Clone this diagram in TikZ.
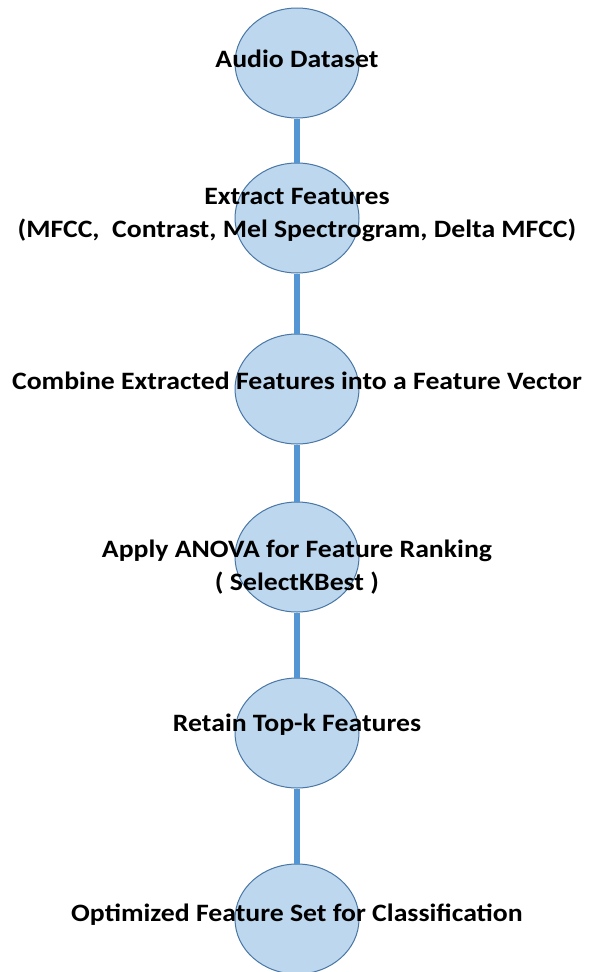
\documentclass[tikz,border=0pt]{standalone}
\usepackage{fontspec}
\setmainfont{Carlito}[FakeStretch=1.11]
\usetikzlibrary{shapes.geometric}
\definecolor{discfill}{RGB}{189,215,238}
\definecolor{discedge}{RGB}{72,118,165}
\definecolor{linkblue}{RGB}{84,150,212}
\tikzset{
  disc/.style={ellipse, draw=discedge, line width=1pt, fill=discfill,
    minimum width=124pt, minimum height=110pt, inner sep=0pt},
  lbl/.style={font=\bfseries\fontsize{25}{33}\selectfont, align=center,
    text=black, inner sep=0pt, anchor=base},
  link/.style={draw=linkblue, line width=6pt}
}
\begin{document}
\begin{tikzpicture}[x=1pt,y=-1pt]
\useasboundingbox (0,0) rectangle (596,972);
\clip (0,0) rectangle (596,972);
\fill[white] (0,0) rectangle (596,972);
% process stages
\node[disc] (n1) at (297,63) {};
\node[disc] (n2) at (297,218) {};
\node[disc] (n3) at (297,389) {};
\node[disc] (n4) at (297,557) {};
\node[disc] (n5) at (297,733) {};
\node[disc] (n6) at (297,919) {};
% connectors
\draw[link] (n1.south) -- (n2.north);
\draw[link] (n2.south) -- (n3.north);
\draw[link] (n3.south) -- (n4.north);
\draw[link] (n4.south) -- (n5.north);
\draw[link] (n5.south) -- (n6.north);
% stage texts (base anchor sits on the last line)
\node[lbl] (t1) at ([yshift=-4pt]n1.center) {Audio Dataset};
\node[lbl] (t2) at ([yshift=-19pt]n2.center) {Extract Features\\(MFCC,\ \ Contrast, Mel Spectrogram, Delta MFCC)};
\node[lbl] (t3) at (n3.center) {Combine Extracted Features into a Feature Vector};
\node[lbl] (t4) at ([yshift=-33pt]n4.center) {Apply ANOVA for Feature Ranking\\( SelectKBest )};
\node[lbl] (t5) at ([yshift=2pt]n5.center) {Retain Top-k Features};
\node[lbl] (t6) at ([yshift=-2pt]n6.center) {Optimized Feature Set for Classification};
\end{tikzpicture}
\end{document}
